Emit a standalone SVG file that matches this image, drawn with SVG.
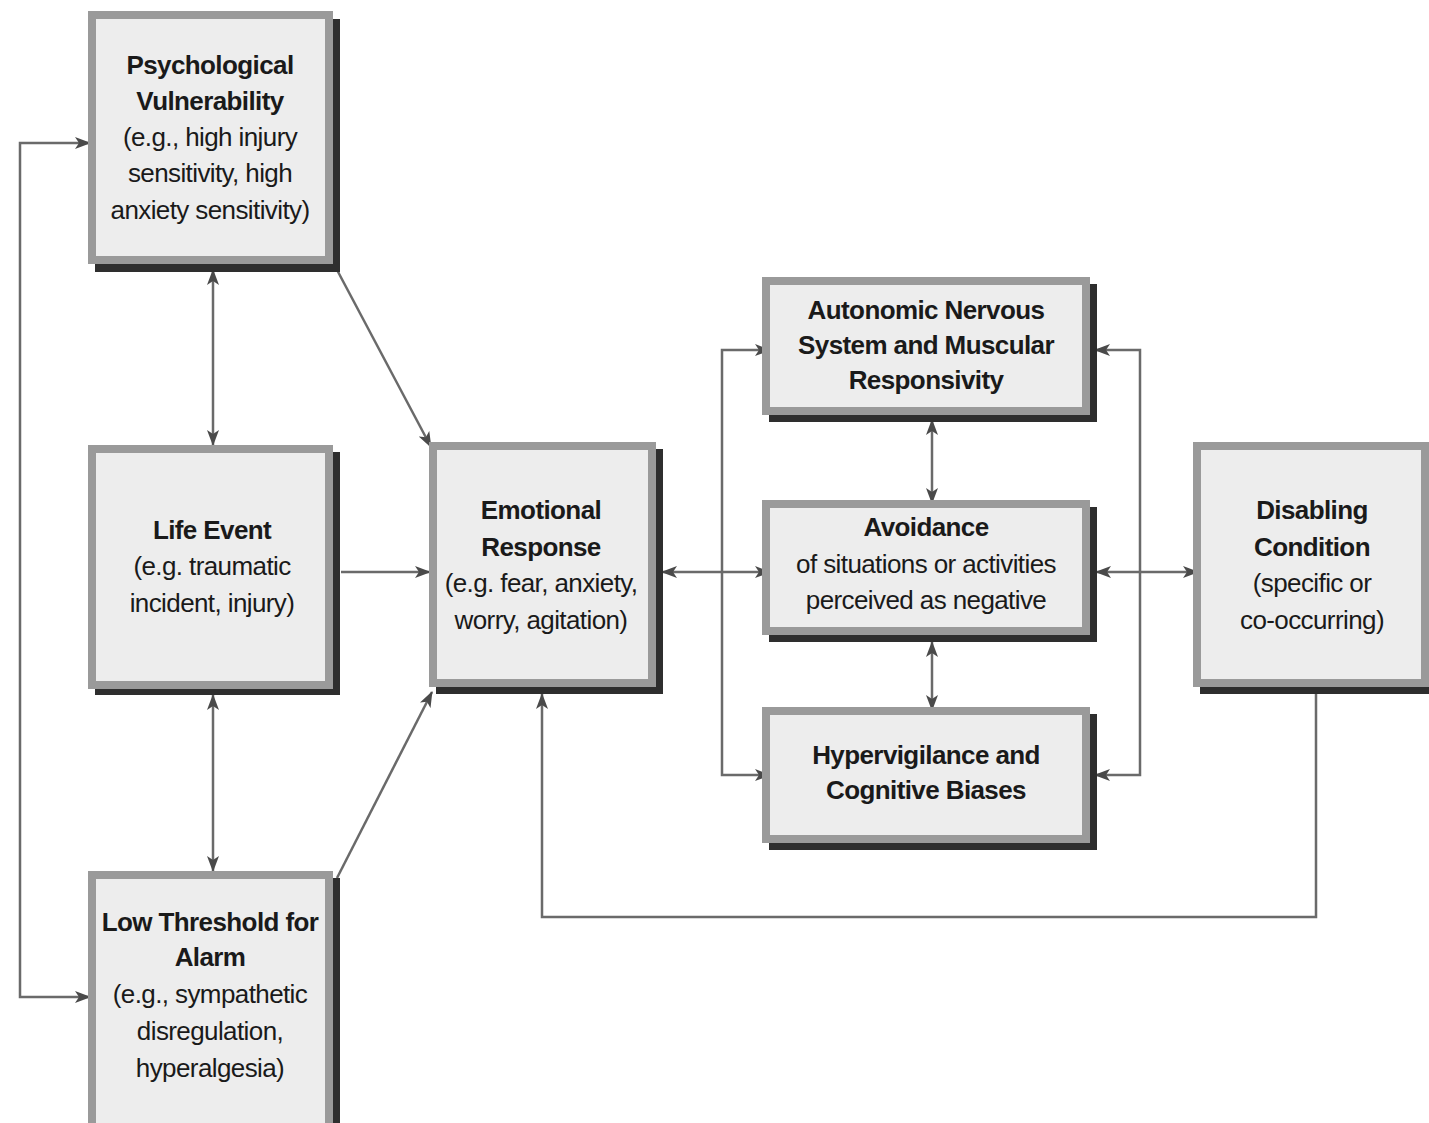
<svg xmlns="http://www.w3.org/2000/svg" width="1429" height="1123" viewBox="0 0 1429 1123">
<style>
.sh{fill:#2e2e2e}
.bx{fill:#ededed;stroke:#9a9a9a;stroke-width:8}
text{font-family:"Liberation Sans",Arial,sans-serif;font-size:26px;fill:#1a1a1a;text-anchor:middle;letter-spacing:-0.6px}
.b{font-weight:bold}
.c{fill:none;stroke:#6a6a6a;stroke-width:2.5}
</style>
<defs>
<marker id="ah" viewBox="0 0 16 12" refX="15" refY="6" markerWidth="16" markerHeight="12" markerUnits="userSpaceOnUse" orient="auto-start-reverse">
<path d="M0,0 L16,6 L0,12 L4,6 Z" fill="#4a4a4a"/>
</marker>
</defs>
<rect width="1429" height="1123" fill="#fff"/>
<g id="connectors">
<polyline class="c" points="90,143 20,143 20,997 90,997" marker-start="url(#ah)" marker-end="url(#ah)"/>
<line class="c" x1="213" y1="270" x2="213" y2="445" marker-start="url(#ah)" marker-end="url(#ah)"/>
<line class="c" x1="213" y1="695" x2="213" y2="871" marker-start="url(#ah)" marker-end="url(#ah)"/>
<line class="c" x1="336" y1="268" x2="431" y2="447" marker-end="url(#ah)"/>
<line class="c" x1="341" y1="572" x2="430" y2="572" marker-end="url(#ah)"/>
<line class="c" x1="337" y1="878" x2="432" y2="692" marker-end="url(#ah)"/>
<line class="c" x1="662" y1="572" x2="770" y2="572" marker-start="url(#ah)" marker-end="url(#ah)"/>
<polyline class="c" points="770,350 722,350 722,775 770,775" marker-start="url(#ah)" marker-end="url(#ah)"/>
<polyline class="c" points="1095,350 1140,350 1140,775 1095,775" marker-start="url(#ah)" marker-end="url(#ah)"/>
<line class="c" x1="932" y1="420" x2="932" y2="503" marker-start="url(#ah)" marker-end="url(#ah)"/>
<line class="c" x1="932" y1="642" x2="932" y2="710" marker-start="url(#ah)" marker-end="url(#ah)"/>
<line class="c" x1="1096" y1="572" x2="1198" y2="572" marker-start="url(#ah)" marker-end="url(#ah)"/>
<polyline class="c" points="1316,694 1316,917 542,917 542,694" marker-end="url(#ah)"/>
</g>
<g id="psych">
<rect class="sh" x="95" y="19" width="245" height="253"/>
<rect class="bx" x="92" y="15" width="237" height="245"/>
<text class="b" x="210" y="74">Psychological</text>
<text class="b" x="210" y="110">Vulnerability</text>
<text x="210" y="146">(e.g., high injury</text>
<text x="210" y="182">sensitivity, high</text>
<text x="210" y="219">anxiety sensitivity)</text>
</g>
<g id="life">
<rect class="sh" x="95" y="452" width="245" height="243"/>
<rect class="bx" x="92" y="449" width="237" height="236"/>
<text class="b" x="212" y="539">Life Event</text>
<text x="212" y="575">(e.g. traumatic</text>
<text x="212" y="612">incident, injury)</text>
</g>
<g id="low">
<rect class="sh" x="95" y="878" width="245" height="260"/>
<rect class="bx" x="92" y="875" width="237" height="260"/>
<text class="b" x="210" y="931">Low Threshold for</text>
<text class="b" x="210" y="966">Alarm</text>
<text x="210" y="1003">(e.g., sympathetic</text>
<text x="210" y="1040">disregulation,</text>
<text x="210" y="1077">hyperalgesia)</text>
</g>
<g id="emotional">
<rect class="sh" x="436" y="449" width="227" height="245"/>
<rect class="bx" x="433" y="446" width="219" height="237"/>
<text class="b" x="541" y="519">Emotional</text>
<text class="b" x="541" y="556">Response</text>
<text x="541" y="592">(e.g. fear, anxiety,</text>
<text x="541" y="629">worry, agitation)</text>
</g>
<g id="autonomic">
<rect class="sh" x="769" y="284" width="328" height="138"/>
<rect class="bx" x="766" y="281" width="320" height="130"/>
<text class="b" x="926" y="319">Autonomic Nervous</text>
<text class="b" x="926" y="354">System and Muscular</text>
<text class="b" x="926" y="389">Responsivity</text>
</g>
<g id="avoidance">
<rect class="sh" x="769" y="507" width="328" height="135"/>
<rect class="bx" x="766" y="504" width="320" height="127"/>
<text class="b" x="926" y="536">Avoidance</text>
<text x="926" y="573">of situations or activities</text>
<text x="926" y="609">perceived as negative</text>
</g>
<g id="hyper">
<rect class="sh" x="769" y="714" width="328" height="136"/>
<rect class="bx" x="766" y="711" width="320" height="128"/>
<text class="b" x="926" y="764">Hypervigilance and</text>
<text class="b" x="926" y="799">Cognitive Biases</text>
</g>
<g id="disabling">
<rect class="sh" x="1200" y="449" width="229" height="245"/>
<rect class="bx" x="1197" y="446" width="228" height="237"/>
<text class="b" x="1312" y="519">Disabling</text>
<text class="b" x="1312" y="556">Condition</text>
<text x="1312" y="592">(specific or</text>
<text x="1312" y="629">co-occurring)</text>
</g>
</svg>
